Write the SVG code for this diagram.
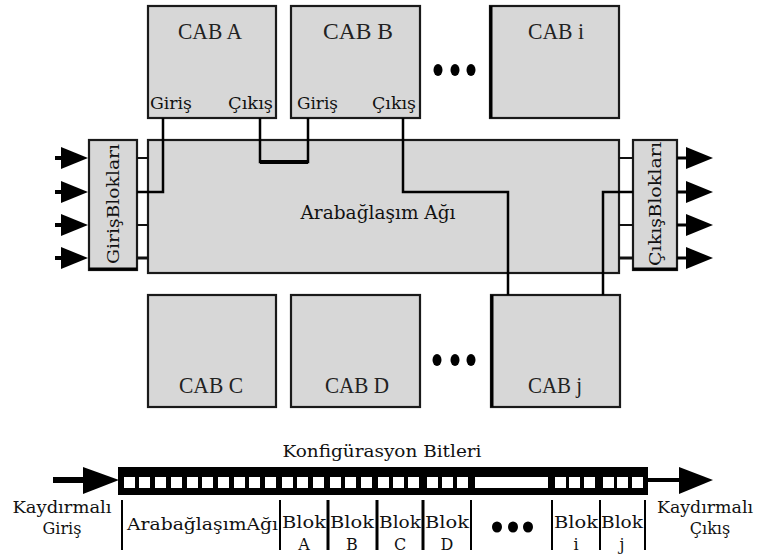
<svg xmlns="http://www.w3.org/2000/svg" width="760" height="554" viewBox="0 0 760 554">
<defs>
<style>
.box{fill:#d7d7d7;stroke:#1a1a1a;stroke-width:2.2}
.wire{fill:none;stroke:#000;stroke-width:2.5}
.t{font-family:"DejaVu Serif","Liberation Serif",serif;fill:#111}
.cab{font-family:"Liberation Serif","DejaVu Serif",serif;font-size:24px;fill:#222;text-anchor:middle}
.sep{stroke:#000;stroke-width:2}
.cell{fill:#fff}
</style>
</defs>
<rect width="760" height="554" fill="#fff"/>

<g id="network">
<rect class="box" x="148" y="140" width="471" height="133"/>
<text class="t" x="378" y="219" font-size="19" text-anchor="middle" textLength="155" lengthAdjust="spacingAndGlyphs">Arabağlaşım Ağı</text>
</g>

<g id="cabA">
<rect class="box" x="148" y="6" width="128" height="112"/>
<text class="cab" x="210" y="39" textLength="64" lengthAdjust="spacingAndGlyphs">CAB A</text>
<text class="t" x="150" y="109" font-size="17" textLength="42" lengthAdjust="spacingAndGlyphs">Giriş</text>
<text class="t" x="228" y="109" font-size="17" textLength="45" lengthAdjust="spacingAndGlyphs">Çıkış</text>
</g>
<g id="cabB">
<rect class="box" x="291" y="6" width="129" height="112"/>
<text class="cab" x="358" y="39" textLength="70" lengthAdjust="spacingAndGlyphs">CAB  B</text>
<text class="t" x="297" y="109" font-size="17" textLength="41" lengthAdjust="spacingAndGlyphs">Giriş</text>
<text class="t" x="372" y="109" font-size="17" textLength="44" lengthAdjust="spacingAndGlyphs">Çıkış</text>
</g>
<g id="cabI">
<rect class="box" x="490" y="6" width="129" height="112"/>
<line x1="491" y1="6" x2="491" y2="118" stroke="#000" stroke-width="3"/>
<text class="cab" x="556" y="39" textLength="56" lengthAdjust="spacingAndGlyphs">CAB i</text>
</g>
<g id="dotsTop">
<ellipse cx="438" cy="70" rx="4.5" ry="6" fill="#000"/>
<ellipse cx="455" cy="70" rx="4.5" ry="6" fill="#000"/>
<ellipse cx="471" cy="70" rx="4.5" ry="6" fill="#000"/>
</g>

<g id="cabC">
<rect class="box" x="148" y="295" width="128" height="112"/>
<text class="cab" x="211" y="393" textLength="64" lengthAdjust="spacingAndGlyphs">CAB C</text>
</g>
<g id="cabD">
<rect class="box" x="291" y="295" width="129" height="112"/>
<text class="cab" x="357" y="393" textLength="64" lengthAdjust="spacingAndGlyphs">CAB D</text>
</g>
<g id="cabJ">
<rect class="box" x="491" y="295" width="129" height="112"/>
<line x1="492" y1="295" x2="492" y2="407" stroke="#000" stroke-width="3"/>
<text class="cab" x="555" y="393" textLength="54" lengthAdjust="spacingAndGlyphs">CAB j</text>
</g>
<g id="dotsBottom">
<ellipse cx="437" cy="360" rx="4.5" ry="6" fill="#000"/>
<ellipse cx="455" cy="360" rx="4.5" ry="6" fill="#000"/>
<ellipse cx="471" cy="360" rx="4.5" ry="6" fill="#000"/>
</g>

<g id="inputBlocks">
<rect class="box" x="89" y="140" width="48" height="130"/>
<line x1="89" y1="269" x2="137" y2="269" stroke="#000" stroke-width="3"/>
<text class="t" font-size="17" text-anchor="middle" transform="translate(119,204) rotate(-90)" textLength="120" lengthAdjust="spacingAndGlyphs">GirişBlokları</text>
</g>
<g id="outputBlocks">
<rect class="box" x="633" y="140" width="44" height="130"/>
<line x1="633" y1="269" x2="677" y2="269" stroke="#000" stroke-width="3"/>
<text class="t" font-size="17" text-anchor="middle" transform="translate(661,204) rotate(-90)" textLength="124" lengthAdjust="spacingAndGlyphs">ÇıkışBlokları</text>
</g>

<g id="connectors">
<g fill="#000" stroke="#000">
<line x1="55" y1="158" x2="70" y2="158" stroke-width="4"/>
<polygon points="61,147 88,158 61,169" stroke="none"/>
<line x1="55" y1="192" x2="70" y2="192" stroke-width="4"/>
<polygon points="61,181 88,192 61,203" stroke="none"/>
<line x1="55" y1="225" x2="70" y2="225" stroke-width="4"/>
<polygon points="61,214 88,225 61,236" stroke="none"/>
<line x1="55" y1="258" x2="70" y2="258" stroke-width="4"/>
<polygon points="61,247 88,258 61,269" stroke="none"/>
<line x1="677" y1="158" x2="692" y2="158" stroke-width="3"/>
<polygon points="686,147 713,158 686,169" stroke="none"/>
<line x1="677" y1="192" x2="692" y2="192" stroke-width="3"/>
<polygon points="686,181 713,192 686,203" stroke="none"/>
<line x1="677" y1="225" x2="692" y2="225" stroke-width="3"/>
<polygon points="686,214 713,225 686,236" stroke="none"/>
<line x1="677" y1="258" x2="692" y2="258" stroke-width="3"/>
<polygon points="686,247 713,258 686,269" stroke="none"/>
</g>
<g stroke="#111" stroke-width="2">
<line x1="137" y1="158" x2="148" y2="158"/>
<line x1="137" y1="192" x2="148" y2="192"/>
<line x1="137" y1="225" x2="148" y2="225"/>
<line x1="137" y1="258" x2="148" y2="258" stroke-width="3"/>
<line x1="619" y1="158" x2="633" y2="158"/>
<line x1="619" y1="192" x2="633" y2="192"/>
<line x1="619" y1="225" x2="633" y2="225"/>
<line x1="619" y1="258" x2="633" y2="258" stroke-width="3"/>
</g>
<polyline class="wire" points="163,118 163,192 137,192"/>
<polyline class="wire" points="260,118 260,162 308,162 308,118"/>
<line x1="260" y1="162" x2="308" y2="162" stroke="#000" stroke-width="4"/>
<polyline class="wire" points="403,118 403,192 508,192 508,295"/>
<polyline class="wire" points="633,192 603,192 603,295"/>
</g>

<g id="configBits">
<text class="t" x="382" y="457" font-size="17" text-anchor="middle" textLength="199" lengthAdjust="spacingAndGlyphs">Konfigürasyon Bitleri</text>
<line x1="53" y1="480" x2="86" y2="480" stroke="#000" stroke-width="6"/>
<polygon points="83,467 119,480 83,494" fill="#000"/>
<rect x="118" y="467" width="530" height="28" fill="#000"/>
<g class="cell">
<rect x="124" y="477" width="11" height="11"/>
<rect x="139" y="477" width="11" height="11"/>
<rect x="155" y="477" width="11" height="11"/>
<rect x="171" y="477" width="11" height="11"/>
<rect x="187" y="477" width="11" height="11"/>
<rect x="202" y="477" width="11" height="11"/>
<rect x="218" y="477" width="11" height="11"/>
<rect x="234" y="477" width="11" height="11"/>
<rect x="249" y="477" width="11" height="11"/>
<rect x="265" y="477" width="11" height="11"/>
<rect x="282" y="477" width="11" height="11"/>
<rect x="297" y="477" width="11" height="11"/>
<rect x="313" y="477" width="11" height="11"/>
<rect x="330" y="477" width="11" height="11"/>
<rect x="345" y="477" width="11" height="11"/>
<rect x="361" y="477" width="11" height="11"/>
<rect x="378" y="477" width="11" height="11"/>
<rect x="393" y="477" width="11" height="11"/>
<rect x="408" y="477" width="11" height="11"/>
<rect x="427" y="477" width="11" height="11"/>
<rect x="442" y="477" width="11" height="11"/>
<rect x="457" y="477" width="11" height="11"/>
<rect x="475" y="477" width="73" height="11"/>
<rect x="555" y="477" width="11" height="11"/>
<rect x="569" y="477" width="11" height="11"/>
<rect x="584" y="477" width="11" height="11"/>
<rect x="603" y="477" width="11" height="11"/>
<rect x="617" y="477" width="11" height="11"/>
<rect x="632" y="477" width="11" height="11"/>
</g>
<line x1="646" y1="480" x2="684" y2="480" stroke="#000" stroke-width="4"/>
<polygon points="679,467 713,480 679,494" fill="#000"/>

<text class="t" x="62" y="513" font-size="16" text-anchor="middle" textLength="99" lengthAdjust="spacingAndGlyphs">Kaydırmalı</text>
<text class="t" x="62" y="534" font-size="16" text-anchor="middle">Giriş</text>
<text class="t" x="705" y="513" font-size="16" text-anchor="middle" textLength="96" lengthAdjust="spacingAndGlyphs">Kaydırmalı</text>
<text class="t" x="710" y="534" font-size="16" text-anchor="middle">Çıkış</text>

<g class="sep">
<line x1="122" y1="500" x2="122" y2="550"/>
<line x1="280" y1="500" x2="280" y2="550"/>
<line x1="328" y1="500" x2="328" y2="550" stroke-width="3"/>
<line x1="377" y1="500" x2="377" y2="550" stroke-width="3"/>
<line x1="423" y1="500" x2="423" y2="550" stroke-width="3"/>
<line x1="471" y1="500" x2="471" y2="550"/>
<line x1="552" y1="500" x2="552" y2="550"/>
<line x1="600" y1="500" x2="600" y2="550"/>
<line x1="645" y1="500" x2="645" y2="550"/>
</g>
<text class="t" x="127" y="530" font-size="17" textLength="151" lengthAdjust="spacingAndGlyphs">ArabağlaşımAğı</text>
<g font-size="16" text-anchor="middle">
<text class="t" x="304" y="528" textLength="44" lengthAdjust="spacingAndGlyphs">Blok</text>
<text class="t" x="304" y="550">A</text>
<text class="t" x="352" y="528" textLength="44" lengthAdjust="spacingAndGlyphs">Blok</text>
<text class="t" x="352" y="550">B</text>
<text class="t" x="400" y="528" textLength="42" lengthAdjust="spacingAndGlyphs">Blok</text>
<text class="t" x="400" y="550">C</text>
<text class="t" x="447" y="528" textLength="44" lengthAdjust="spacingAndGlyphs">Blok</text>
<text class="t" x="447" y="550">D</text>
<text class="t" x="576" y="528" textLength="44" lengthAdjust="spacingAndGlyphs">Blok</text>
<text class="t" x="576" y="550">i</text>
<text class="t" x="622" y="528" textLength="42" lengthAdjust="spacingAndGlyphs">Blok</text>
<text class="t" x="622" y="550">j</text>
</g>
<ellipse cx="497" cy="527" rx="5" ry="5.5" fill="#000"/>
<ellipse cx="513" cy="527" rx="5" ry="5.5" fill="#000"/>
<ellipse cx="528" cy="527" rx="5" ry="5.5" fill="#000"/>
</g>
</svg>
